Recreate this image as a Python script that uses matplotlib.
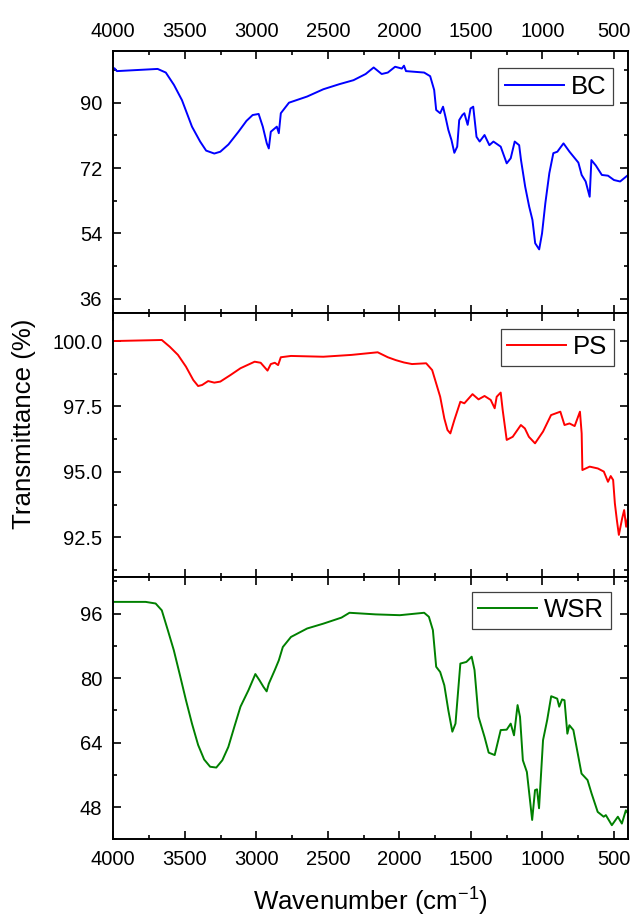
import matplotlib
matplotlib.use("Agg")
import matplotlib.pyplot as plt
from matplotlib.ticker import MultipleLocator, FormatStrFormatter

plt.rcParams['font.family'] = ['Liberation Sans', 'DejaVu Sans']
plt.rcParams['mathtext.fontset'] = 'custom'
plt.rcParams['mathtext.rm'] = 'Liberation Sans'

# ---- data ----
bc_wn = [4000, 3990, 3975, 3690, 3633, 3576, 3520, 3450, 3393, 3351, 3294, 3252, 3195, 3125, 3069,
         3026, 2984, 2955, 2927, 2913, 2899, 2857, 2843, 2829, 2772, 2645, 2532, 2420, 2321, 2236,
         2180, 2124, 2081, 2030, 1983, 1968, 1954, 1827, 1785, 1757, 1743, 1715, 1695, 1678, 1658,
         1636, 1616, 1596, 1582, 1560, 1546, 1523, 1503, 1484, 1461, 1439, 1405, 1371, 1343, 1292,
         1250, 1222, 1194, 1163, 1150, 1121, 1093, 1070, 1051, 1023, 1003, 980, 952, 924, 896, 853,
         811, 749, 726, 698, 670, 658, 627, 585, 542, 500, 457, 429, 401]
bc_t = [99.6, 99.4, 98.7, 99.3, 98.3, 94.9, 90.7, 83.4, 79.3, 76.8, 76.0, 76.5, 78.5, 82.0, 85.0,
        86.6, 86.9, 83.4, 78.8, 77.4, 82.0, 83.4, 81.6, 87.1, 90.0, 91.7, 93.7, 95.1, 96.2, 97.9,
        99.7, 97.9, 98.3, 99.9, 99.4, 100.2, 98.7, 98.3, 97.3, 93.5, 88.0, 87.1, 88.9, 86.1, 82.5,
        79.7, 76.2, 77.9, 85.2, 86.6, 87.1, 83.9, 88.4, 88.9, 80.6, 79.3, 81.1, 78.3, 79.3, 77.9,
        73.3, 74.7, 79.3, 78.3, 74.2, 66.9, 61.4, 57.7, 51.3, 49.6, 54.0, 62.3, 70.6, 76.1, 76.5, 78.8,
        76.5, 73.5, 70.1, 68.3, 64.1, 74.2, 72.7, 70.1, 69.9, 68.7, 68.3, 69.2, 70.1]

ps_wn = [4000, 3995, 3661, 3605, 3548, 3492, 3441, 3407, 3379, 3337, 3294, 3252, 3181, 3111, 3012,
         2970, 2922, 2899, 2871, 2848, 2829, 2758, 2532, 2335, 2152, 2081, 2025, 1968, 1912, 1813,
         1771, 1743, 1715, 1686, 1664, 1644, 1616, 1574, 1546, 1489, 1447, 1405, 1362, 1334, 1320,
         1292, 1278, 1250, 1208, 1151, 1123, 1095, 1052, 996, 940, 875, 846, 811, 775, 738, 726,
         721, 670, 613, 571, 542, 523, 506, 494, 480, 466, 443, 429, 415, 401]
ps_t = [100.0, 100.0, 100.04, 99.78, 99.47, 99.02, 98.51, 98.28, 98.32, 98.47, 98.41, 98.45, 98.70,
        98.96, 99.21, 99.17, 98.87, 99.12, 99.17, 99.08, 99.38, 99.43, 99.40, 99.47, 99.57, 99.38,
        99.27, 99.18, 99.12, 99.15, 98.89, 98.38, 97.87, 97.04, 96.60, 96.47, 96.98, 97.68, 97.62,
        97.97, 97.77, 97.90, 97.75, 97.43, 97.87, 98.03, 97.36, 96.22, 96.34, 96.79, 96.66, 96.34,
        96.09, 96.54, 97.17, 97.30, 96.79, 96.85, 96.75, 97.30, 96.47, 95.07, 95.20, 95.13, 95.01,
        94.62, 94.84, 94.69, 93.80, 93.16, 92.59, 93.22, 93.54, 92.90, 93.29]

wsr_wn = [4000, 3995, 3774, 3704, 3661, 3619, 3577, 3534, 3492, 3450, 3407, 3365, 3323, 3280, 3238,
          3196, 3154, 3111, 3055, 3007, 2979, 2950, 2928, 2913, 2871, 2843, 2815, 2758, 2645, 2532,
          2405, 2349, 2166, 1997, 1827, 1794, 1766, 1743, 1715, 1686, 1658, 1630, 1608, 1574, 1532,
          1495, 1475, 1447, 1405, 1376, 1334, 1292, 1250, 1222, 1199, 1174, 1157, 1137, 1109, 1072,
          1052, 1038, 1024, 996, 967, 939, 897, 883, 863, 846, 826, 812, 784, 727, 685, 657, 614,
          572, 557, 515, 473, 445, 417, 402]
wsr_t = [98.9, 98.9, 98.9, 98.5, 96.8, 91.9, 86.9, 80.7, 74.5, 68.7, 63.4, 59.8, 58.0, 57.8, 59.6,
         62.9, 67.9, 72.9, 77.0, 81.0, 79.5, 77.8, 76.7, 78.6, 82.0, 84.4, 87.7, 90.2, 92.3, 93.5,
         95.0, 96.2, 95.8, 95.6, 96.2, 95.2, 91.9, 82.8, 81.5, 78.2, 72.0, 66.7, 68.7, 83.6, 84.0,
         85.3, 82.0, 70.4, 65.4, 61.5, 60.9, 67.1, 67.2, 68.7, 65.8, 73.3, 70.4, 59.6, 56.7, 44.8,
         52.2, 52.4, 47.7, 64.6, 69.6, 75.5, 74.9, 72.9, 74.7, 74.5, 66.2, 68.3, 67.1, 56.3, 54.7,
         51.4, 46.8, 45.6, 46.0, 43.5, 45.6, 43.9, 47.2, 46.4]

labels = ["BC", "PS", "WSR"]
colors = ["#0000FF", "#FF0000", "#008000"]

# ---- figure ----
W, H = 634, 916
fig = plt.figure(figsize=(W / 100, H / 100), dpi=100)

def ax_rect(top, bottom, left=113.3, right=628.3):
    return [left / W, 1 - bottom / H, (right - left) / W, (bottom - top) / H]

axes = [fig.add_axes(ax_rect(51.5, 313.3)),
        fig.add_axes(ax_rect(313.3, 577.3)),
        fig.add_axes(ax_rect(577.3, 839.3))]

series = [(bc_wn, bc_t), (ps_wn, ps_t), (wsr_wn, wsr_t)]
ylims = [(32.0, 104.1), (90.97, 101.06), (40.0, 105.0)]
ymaj = [18, 2.5, 16]
ymin = [9, 1.25, 8]
yfmt = ['%d', '%.1f', '%d']
leg_anchor = [(0.970, 0.936), (0.972, 0.941), (0.966, 0.944)]

for i, ax in enumerate(axes):
    x, y = series[i]
    ax.plot(x, y, color=colors[i], lw=1.4, label=labels[i])
    ax.set_xlim(4000, 400)
    ax.set_ylim(*ylims[i])
    ax.xaxis.set_major_locator(MultipleLocator(500))
    ax.xaxis.set_minor_locator(MultipleLocator(250))
    ax.yaxis.set_major_locator(MultipleLocator(ymaj[i]))
    ax.yaxis.set_minor_locator(MultipleLocator(ymin[i]))
    ax.yaxis.set_major_formatter(FormatStrFormatter(yfmt[i]))
    ax.tick_params(which='both', direction='in', top=True, bottom=True, left=True, right=True,
                   width=1.2, labelsize=14.5)
    ax.tick_params(which='major', length=5.5)
    ax.tick_params(which='minor', length=3)
    ax.tick_params(axis='y', pad=8)
    ax.tick_params(axis='x', pad=7.5)
    for s in ax.spines.values():
        s.set_linewidth(1.4)
    ax.tick_params(axis='x', labelbottom=(i == 2), labeltop=(i == 0))
    leg = ax.legend(loc='upper right', bbox_to_anchor=leg_anchor[i], borderaxespad=0,
                    fontsize=18.5, fancybox=False, framealpha=1, edgecolor='#404040',
                    handlelength=2.3, handletextpad=0.27, borderpad=0.25)
    leg.get_frame().set_linewidth(0.9)

fig.text(24 / W, 1 - 423.5 / H, "Transmittance (%)", rotation=90, ha='center', va='center',
         fontsize=18.6)
fig.text(370.8 / W, 1 - 910 / H, r"Wavenumber (cm$^{\mathregular{-1}}$)", ha='center',
         va='baseline', fontsize=18.6)

fig.savefig("out.png", dpi=100)
